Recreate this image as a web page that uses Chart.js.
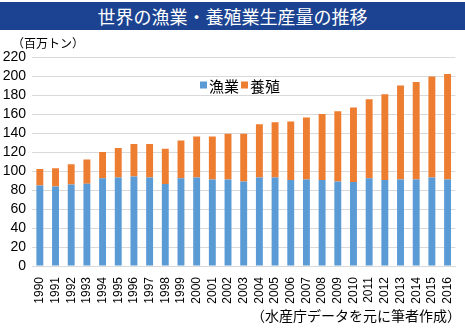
<!DOCTYPE html>
<html lang="ja">
<head>
<meta charset="utf-8">
<script src="https://cdn.jsdelivr.net/npm/chart.js@4"></script>
<style>
  html, body { margin: 0; padding: 0; background: #fff; }
  #wrap { position: relative; width: 465px; height: 328px; overflow: hidden; }
  #chart { position: absolute; left: 0; top: 0; }
  .title {
    position: absolute; left: 0; top: 2px; width: 465px; height: 28px;
    background: #1c4391; color: #fff; text-align: center;
    font: 18px "Noto Sans CJK JP", sans-serif; line-height: 28px;
  }
  .unit {
    position: absolute; left: 12px; top: 34px;
    font: 12px "Noto Sans CJK JP", sans-serif; color: #000;
  }
  .source {
    position: absolute; right: 4px; top: 305px;
    font: 14px "Noto Sans CJK JP", sans-serif; color: #000;
  }
</style>
</head>
<body>
<div id="wrap">
  <canvas id="chart" width="465" height="328"></canvas>
  <div class="title">世界の漁業・養殖業生産量の推移</div>
  <div class="unit">（百万トン）</div>
  <div class="source">（水産庁データを元に筆者作成）</div>
</div>
<script>
// values (million tonnes)
const years = ["1990","1991","1992","1993","1994","1995","1996","1997","1998","1999",
  "2000","2001","2002","2003","2004","2005","2006","2007","2008","2009",
  "2010","2011","2012","2013","2014","2015","2016"];
const fishing = [84.8, 83.8, 85.9, 86.6, 92.5, 93.2, 94.3, 93.2, 86.2, 92.5,
  93.2, 91.1, 91.1, 89.0, 93.2, 93.2, 90.4, 91.1, 90.4, 89.0,
  88.3, 92.5, 90.4, 91.1, 91.1, 93.2, 91.1];
const aquaculture = [17.2, 19.2, 21.3, 25.4, 27.6, 31.1, 34.2, 35.3, 37.1, 39.5,
  43.0, 45.1, 48.2, 50.3, 55.9, 58.0, 61.8, 65.3, 69.5, 74.0,
  78.6, 83.1, 90.5, 98.8, 102.7, 106.2, 111.1];
const yTicks = [0, 20, 40, 60, 80, 100, 120, 140, 160, 180, 200, 220];

const BLUE = '#5b9bd5';
const ORANGE = '#ed7d31';
const NUM_FONT = '"Liberation Sans", Arial, sans-serif';

// legend drawn inside the plot area, like the original
const innerLegend = {
  id: 'innerLegend',
  afterDraw(chart) {
    const ctx = chart.ctx;
    let x = 200;
    const y = 85;
    ctx.save();
    ctx.font = '15px "Noto Sans CJK JP", sans-serif';
    ctx.textBaseline = 'middle';
    chart.data.datasets.forEach(ds => {
      ctx.fillStyle = ds.backgroundColor;
      ctx.fillRect(x, y - 3.5, 7, 7);
      x += 9;
      ctx.fillStyle = '#000';
      ctx.fillText(ds.label, x, y + 1);
      x += ctx.measureText(ds.label).width + 2;
    });
    ctx.restore();
  }
};

new Chart(document.getElementById('chart'), {
  type: 'bar',
  data: {
    labels: years,
    datasets: [
      { label: '漁業', data: fishing, backgroundColor: BLUE,
        categoryPercentage: 0.9, barPercentage: 0.49 },
      { label: '養殖', data: aquaculture, backgroundColor: ORANGE,
        categoryPercentage: 0.9, barPercentage: 0.49 }
    ]
  },
  options: {
    responsive: false,
    animation: false,
    layout: { padding: { top: 57, right: 2, left: 0, bottom: 0 } },
    plugins: {
      legend: { display: false },
      title: { display: false },
      tooltip: { enabled: false }
    },
    scales: {
      x: {
        stacked: true,
        grid: { display: false },
        border: { color: '#d9d9d9' },
        ticks: {
          color: '#000', font: { family: NUM_FONT, size: 12 },
          minRotation: 90, maxRotation: 90, autoSkip: false, padding: 3
        },
        afterFit(scale) { scale.height = 62; }
      },
      y: {
        stacked: true,
        min: 0, max: 220,
        afterBuildTicks(scale) { scale.ticks = yTicks.map(v => ({ value: v })); },
        grid: { color: '#d9d9d9', drawTicks: false },
        border: { display: false },
        ticks: {
          color: '#000', font: { family: NUM_FONT, size: 14 }, padding: 6,
          autoSkip: false
        },
        afterFit(scale) { scale.width = 32; }
      }
    }
  },
  plugins: [innerLegend]
});
</script>
</body>
</html>
